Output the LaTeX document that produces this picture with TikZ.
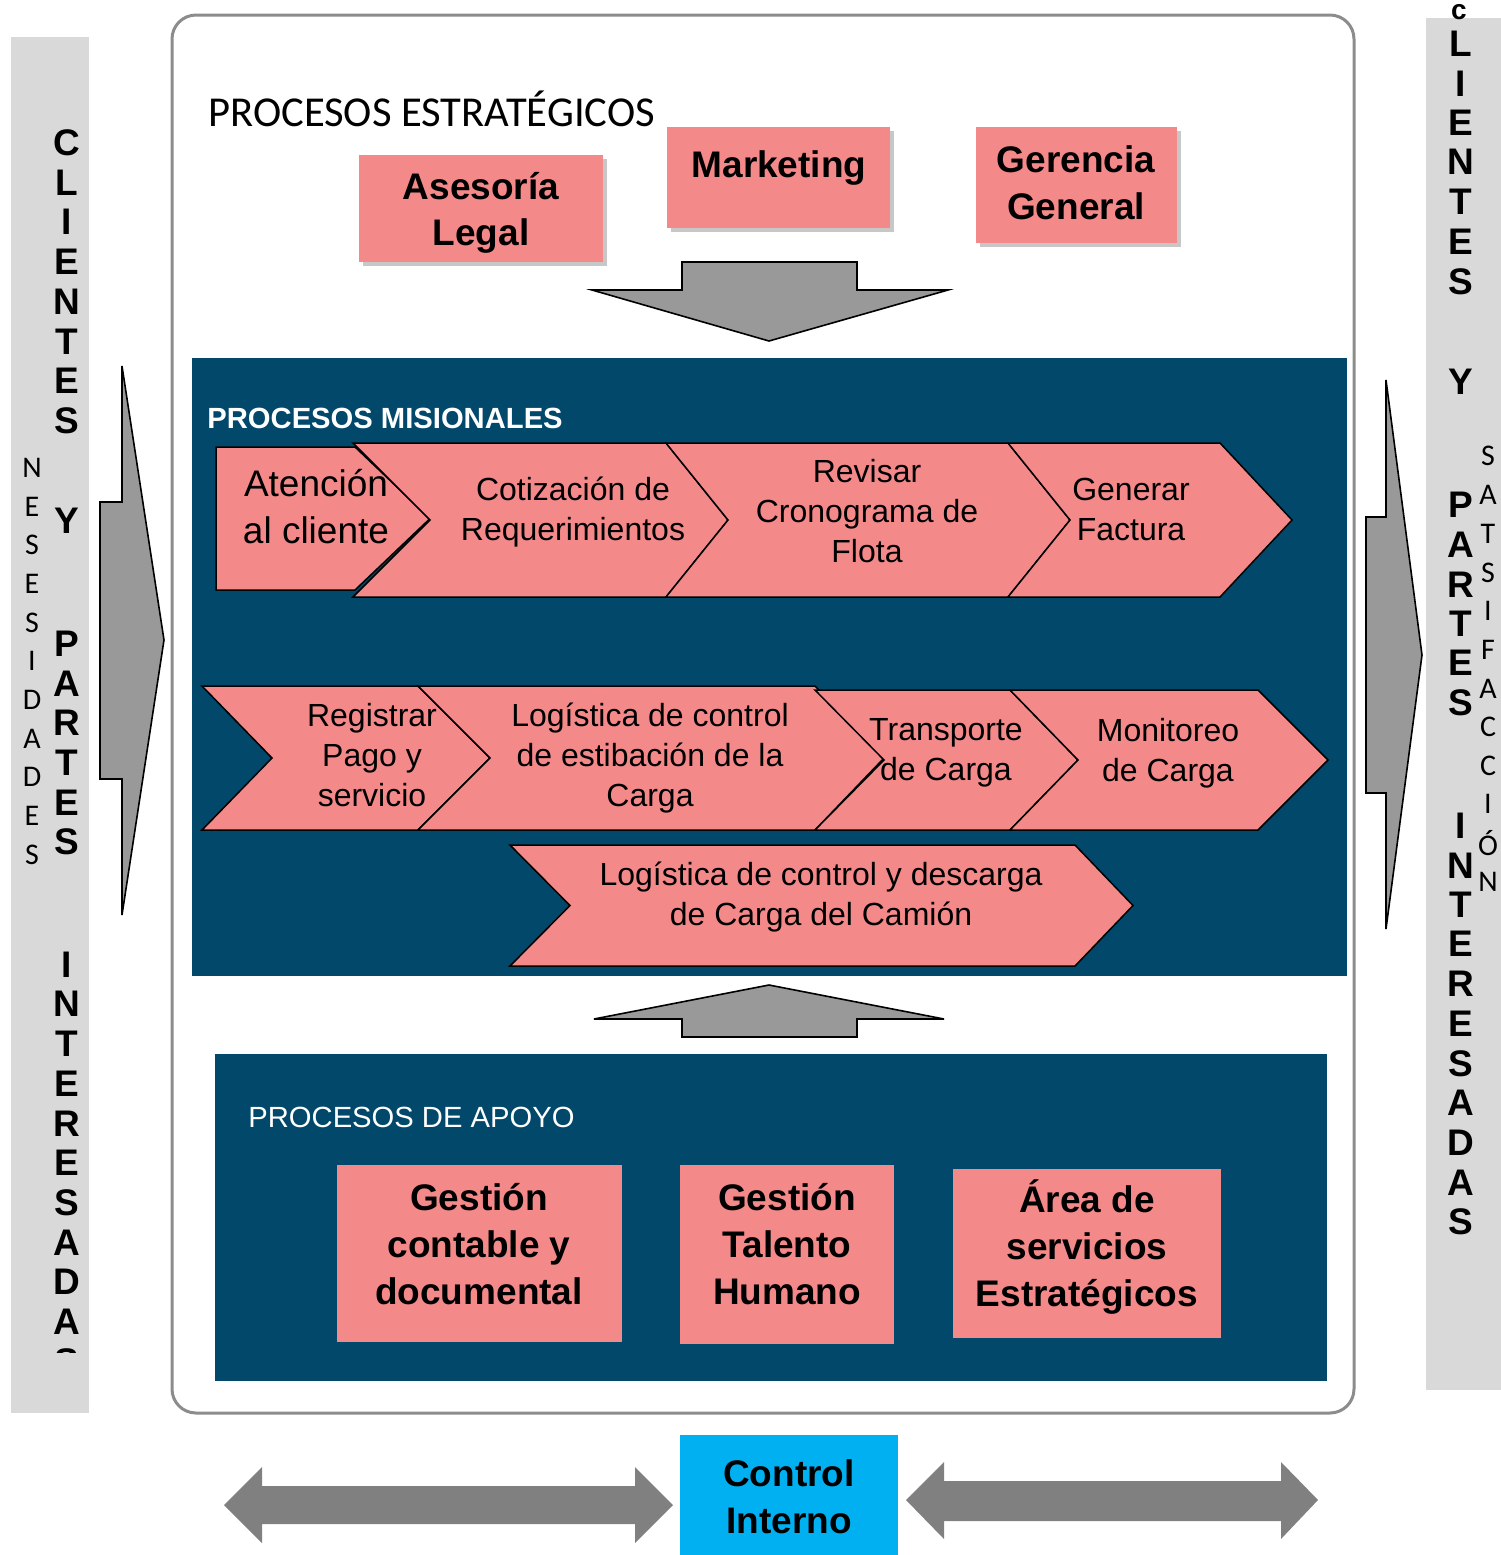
\documentclass[tikz,border=0pt]{standalone}
\usepackage{fontspec}
\setmainfont{Liberation Sans}
\newfontfamily\calibri{Carlito}
\usepackage{tikz}

\definecolor{procpink}{HTML}{F4898A}
\definecolor{procblue}{HTML}{01486B}
\definecolor{colgray}{HTML}{D9D9D9}
\definecolor{arrowgray}{HTML}{999999}
\definecolor{darkarrow}{HTML}{808080}
\definecolor{ctrlblue}{HTML}{00B0F0}

\tikzset{
  chev/.style={fill=procpink, draw=black, line width=0.75pt, line join=miter},
  chevtext/.style={align=center, font=\fontsize{16}{20}\selectfont},
  boldbox/.style={align=center, font=\bfseries\fontsize{18.5}{23.3}\selectfont},
  bigletter/.style={font=\bfseries\fontsize{18.5}{20}\selectfont, inner sep=0pt},
  smallletter/.style={font=\calibri\fontsize{15}{16}\selectfont, inner sep=0pt},
  fatarrow/.style={fill=arrowgray, draw=black, line width=0.8pt}
}

% chevron: x left, x right, y top, y bottom, notch depth, tip depth
\newcommand{\procchev}[6]{%
  \filldraw[chev] (#1,#3) -- (#2,#3) -- ({#2+#6},{(#3+#4)/2}) -- (#2,#4) -- (#1,#4) -- ({#1+#5},{(#3+#4)/2}) -- cycle;}

\begin{document}
\begin{tikzpicture}[x=0.5pt, y=-0.5pt]
  \useasboundingbox (0,0) rectangle (1501,1555);

  % side columns
  \fill[colgray] (11,37) rectangle (89,1413);
  \fill[colgray] (1426,18) rectangle (1501,1390);
  \begin{scope}
    \clip (11,37) rectangle (89,1352);
    \foreach \l/\y in {C/143, L/183, I/222, E/262, N/302, T/342, E/381, S/421, Y/521,
                       P/644, A/684, R/723, T/763, E/803, S/842,
                       I/965, N/1004, T/1044, E/1084, R/1124, E/1163, S/1203, A/1243, D/1282, A/1322, S/1362}
      \node[bigletter] at (67,\y) {\l};
  \end{scope}
  \foreach \l/\y in {N/468, E/507, S/545, E/584, S/623, I/661, D/700, A/739, D/777, E/816, S/855}
    \node[smallletter] at (32,\y) {\l};
  \node[font=\bfseries\fontsize{14}{16}\selectfont, inner sep=0pt] (topc) at (1459,12) {c};
  \foreach \l/\y in {L/44, I/84, E/123, N/162, T/202, E/242, S/282, Y/382,
                     P/505, A/545, R/585, T/624, E/663, S/703,
                     I/826, N/866, T/905, E/944, R/984, E/1024, S/1064, A/1103, D/1143, A/1183, S/1222}
    \node[bigletter] at (1461,\y) {\l};
  \foreach \l/\y in {S/456, A/495, T/534, S/573, I/611, F/650, A/689, C/727, C/766, I/804, Ó/843, N/882}
    \node[smallletter] at (1488,\y) {\l};

  % side arrows
  \draw[fatarrow] (122,366) -- (164,640) -- (122,915) -- (122,779) -- (100,779) -- (100,502) -- (122,502) -- cycle;
  \draw[fatarrow] (1386,380) -- (1422,655) -- (1386,929) -- (1386,793) -- (1366,793) -- (1366,517) -- (1386,517) -- cycle;

  % main frame
  \draw[draw=black!45, line width=1.5pt, rounded corners=12pt, fill=white] (172,15) rectangle (1354,1413);

  % estrategicos
  \node[anchor=west, font=\calibri\fontsize{21.3}{24}\selectfont, inner sep=0pt] (titleest) at (208,109) {PROCESOS ESTRATÉGICOS};
  \fill[black!22] (363,159) rectangle (607,266);
  \fill[procpink] (359,155) rectangle (603,262);
  \node[boldbox] (legal) at (481,213) {Asesoría\\Legal};
  \fill[black!22] (671,131) rectangle (894,232);
  \fill[procpink] (667,127) rectangle (890,228);
  \node[boldbox] (mkt) at (779,168) {Marketing};
  \fill[black!22] (980,131) rectangle (1181,247);
  \fill[procpink] (976,127) rectangle (1177,243);
  \node[boldbox] (ger) at (1076,183) {Gerencia\\General};

  \draw[fatarrow] (682,262) -- (857,262) -- (857,290) -- (948,290) -- (769,341) -- (592,290) -- (682,290) -- cycle;

  % misionales
  \fill[procblue] (192,358) rectangle (1347,976);
  \node[anchor=west, text=white, font=\bfseries\fontsize{14.6}{16}\selectfont, inner sep=0pt] (titlemis) at (207,418) {PROCESOS MISIONALES};

  \procchev{216}{355}{447}{590}{0}{75}
  \procchev{353}{666}{443}{597}{77}{62}
  \procchev{666}{1008}{443}{597}{62}{62}
  \procchev{1008}{1220}{443}{597}{62}{72}
  \node[align=center, font=\fontsize{18.5}{23.5}\selectfont] (atencion) at (316,507) {Atención\\al cliente};
  \node[chevtext] (cotiz) at (573,512) {Cotización de\\Requerimientos};
  \node[chevtext] (revisar) at (867,511) {Revisar\\Cronograma de\\Flota};
  \node[chevtext] (factura) at (1131,509) {Generar\\Factura};

  \procchev{202}{418}{686}{830}{70}{72}
  \procchev{418}{815}{686}{830}{72}{69}
  \procchev{815}{1010}{690}{830}{69}{68}
  \procchev{1010}{1258}{690}{830}{68}{70}
  \node[chevtext] (pago) at (372,755) {Registrar\\Pago y\\servicio};
  \node[chevtext] (estiba) at (650,758) {Logística de control\\de estibación de la\\Carga};
  \node[chevtext] (transp) at (946,753) {Transporte\\de Carga};
  \node[chevtext] (monit) at (1168,753) {Monitoreo\\de Carga};

  \procchev{510}{1075}{845}{966}{60}{58}
  \node[chevtext] (descarga) at (821,897) {Logística de control y descarga\\de Carga del Camión};

  \draw[fatarrow] (682,1037) -- (857,1037) -- (857,1019) -- (944,1019) -- (769,985) -- (594,1019) -- (682,1019) -- cycle;

  % apoyo
  \fill[procblue] (215,1054) rectangle (1327,1381);
  \node[anchor=west, text=white, font=\fontsize{14.6}{16}\selectfont, inner sep=0pt] (titleapo) at (248,1117) {PROCESOS DE APOYO};
  \fill[procpink] (337,1165) rectangle (622,1342);
  \node[boldbox] (contable) at (479,1244) {Gestión\\contable y\\documental};
  \fill[procpink] (680,1165) rectangle (894,1344);
  \node[boldbox] (talento) at (787,1244) {Gestión\\Talento\\Humano};
  \fill[procpink] (953,1169) rectangle (1221,1338);
  \node[boldbox] (area) at (1087,1247) {Área de\\servicios\\Estratégicos};

  % control interno
  \fill[ctrlblue] (680,1435) rectangle (898,1555);
  \node[boldbox] (control) at (789,1497) {Control\\Interno};
  \fill[darkarrow] (224,1505) -- (262,1467) -- (262,1486) -- (635,1486) -- (635,1467) -- (673,1505) -- (635,1543) -- (635,1524) -- (262,1524) -- (262,1543) -- cycle;
  \fill[darkarrow] (906,1500) -- (944,1462) -- (944,1481) -- (1281,1481) -- (1281,1462) -- (1318,1500) -- (1281,1539) -- (1281,1521) -- (944,1521) -- (944,1539) -- cycle;
\end{tikzpicture}
\end{document}
